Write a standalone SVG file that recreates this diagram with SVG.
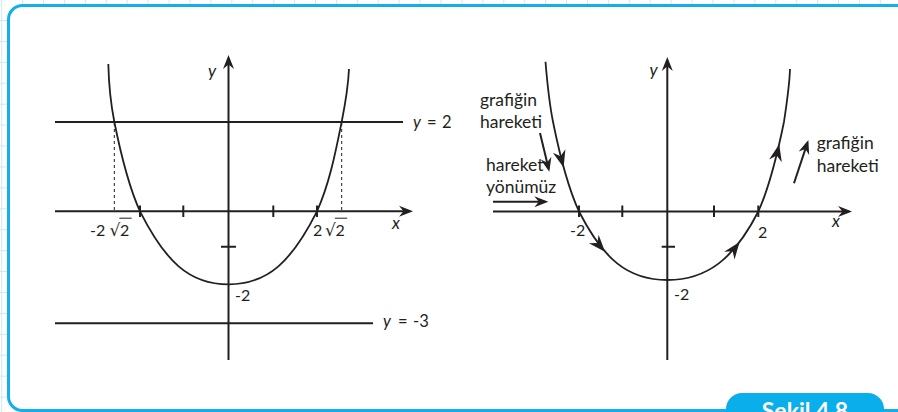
<svg xmlns="http://www.w3.org/2000/svg" xmlns:xlink="http://www.w3.org/1999/xlink" width="898" height="412" viewBox="0 0 898 412">
<style>
.ax{stroke:#231f20;stroke-width:2;fill:none}
.cv{stroke:#231f20;stroke-width:1.8;fill:none}
.tk{stroke:#231f20;stroke-width:2}
.ds{stroke:#231f20;stroke-width:1;stroke-dasharray:3 3}
.t{font-family:Lato,"Liberation Sans",sans-serif;fill:#231f20}
.n{font-size:16px}
.e{font-size:16.5px}
.w{font-size:17.5px}
.v{font-size:17px}
.i{font-style:italic}
.r{font-family:"DejaVu Sans",sans-serif;font-size:17px}
</style>
<defs>
<pattern id="grid" patternUnits="userSpaceOnUse" x="1.2" y="-0.9" width="20.92" height="20.92">
<path d="M0.5,0 V20.92 M0,0.5 H20.92" stroke="#cde8f7" stroke-width="1" fill="none"/>
</pattern>
<marker id="arr" markerUnits="userSpaceOnUse" markerWidth="16" markerHeight="12" viewBox="-12 -6 16 12" refX="0" refY="0" orient="auto" overflow="visible">
<path d="M3,0 L-11,-5.5 L-6.5,0 L-11,5.5 Z" fill="#231f20"/>
</marker>
<path id="cah" d="M0,0 L-17,-6.5 L-11.5,0 L-17,6.5 Z" fill="#231f20"/>
</defs>
<rect width="898" height="412" fill="#fff"/>
<rect width="898" height="412" fill="url(#grid)"/>
<rect id="frame" x="8.5" y="5.5" width="1000" height="405" rx="14" fill="#fff" stroke="#12afeb" stroke-width="3"/>

<g id="left-graph">
<g id="left-connectors">
<line class="ax" x1="55" y1="122" x2="403" y2="122"/>
<line class="ax" x1="55" y1="323.3" x2="373" y2="323.3"/>
<line class="ax" x1="55" y1="211.3" x2="410" y2="211.3" marker-end="url(#arr)"/>
<line class="ax" x1="228.5" y1="360" x2="228.5" y2="58" marker-end="url(#arr)"/>
<line class="ds" x1="114.3" y1="123" x2="114.3" y2="210"/>
<line class="ds" x1="341.7" y1="123" x2="341.7" y2="210"/>
<path class="tk" d="M140,205.5 V217 M183.3,205.5 V217 M273.3,205.5 V217 M317,205.5 V217 M221,246.7 H236"/>
</g>
<path id="left-parabola" class="cv" d="M108.3,64 C108.8,83 110.4,102.1 114.3,121.7 C120.2,151.1 127.6,184 140,211.3 C165,260.7 188.5,284.3 228.5,284.3 C268.5,284.3 292,260.7 317,211.3 C329.4,184 335.8,151.1 341.7,121.7 C345.6,102.1 348.2,86 349,69"/>
<g id="left-labels">
<text class="t v i" x="208" y="77">y</text>
<text class="t v i" x="392" y="229">x</text>
<text class="t e" y="128"><tspan class="i" x="413">y</tspan><tspan x="427">=</tspan><tspan x="442">2</tspan></text>
<text class="t e" y="327"><tspan class="i" x="383">y</tspan><tspan x="398">=</tspan><tspan x="413">-3</tspan></text>
<text class="t n" x="235" y="301">-2</text>
<text class="t n" y="235.5"><tspan x="90">-2</tspan><tspan class="r" x="109.5">√</tspan><tspan x="120">2</tspan></text>
<line x1="119.3" y1="218.2" x2="131.7" y2="218.2" stroke="#231f20" stroke-width="1"/>
<text class="t n" y="235.5"><tspan x="313">2</tspan><tspan class="r" x="325">√</tspan><tspan x="335.5">2</tspan></text>
<line x1="334.8" y1="218.2" x2="347.2" y2="218.2" stroke="#231f20" stroke-width="1"/>
</g>
</g>

<g id="right-graph">
<g id="right-connectors">
<line class="ax" x1="493" y1="211.5" x2="849" y2="211.5" marker-end="url(#arr)"/>
<line class="ax" x1="667.3" y1="360" x2="667.3" y2="60" marker-end="url(#arr)"/>
<path class="tk" d="M579,205.5 V217 M622.3,205.5 V217 M714,205.5 V217 M758.3,205.5 V217 M661.7,246.7 H675"/>
<line class="ax" x1="540" y1="133" x2="548.6" y2="168.8" stroke-width="2.2" marker-end="url(#arr)"/>
<line class="ax" x1="493" y1="201.7" x2="545.3" y2="201.7" stroke-width="2.2" marker-end="url(#arr)"/>
<line class="ax" x1="794" y1="183.3" x2="807.4" y2="142.9" stroke-width="2.2" marker-end="url(#arr)"/>
</g>
<path id="right-parabola" class="cv" d="M545.5,61.7 C547,80 549.1,102.1 553,121.7 C558.9,151.1 566.6,184.2 579,211.5 C603,258.5 627.3,280 667.3,280 C707.3,280 734.3,258.5 758.3,211.5 C770.7,184.2 778,151.1 784,121.7 C787,102 789.5,85 790,69"/>
<g id="motion-arrows">
<use xlink:href="#cah" transform="translate(563.6,167.4) rotate(74.7)"/>
<use xlink:href="#cah" transform="translate(605,251.7) rotate(48.6)"/>
<use xlink:href="#cah" transform="translate(739.6,242) rotate(-52.9)"/>
<use xlink:href="#cah" transform="translate(779.2,144.3) rotate(-77.3)"/>
</g>
<g id="right-labels">
<text class="t v i" x="649.5" y="76">y</text>
<text class="t v i" x="832" y="227">x</text>
<text class="t n" x="570" y="235.5">-2</text>
<text class="t n" x="758" y="237.5">2</text>
<text class="t n" x="674" y="300">-2</text>
<text class="t w" x="480" y="106">grafiğin</text>
<text class="t w" x="480" y="128">hareketi</text>
<text class="t w" x="486" y="171">hareket</text>
<text class="t w" x="486" y="193">yönümüz</text>
<text class="t w" x="816.7" y="149">grafiğin</text>
<text class="t w" x="816.7" y="171.5">hareketi</text>
</g>
</g>

<g id="caption">
<rect x="726" y="393" width="158" height="40" rx="16" fill="#0aaeea"/>
<text x="805" y="418.5" text-anchor="middle" font-family="Lato,'Liberation Sans',sans-serif" font-weight="bold" font-size="23" fill="#fff">Şekil 4.8</text>
</g>
</svg>
